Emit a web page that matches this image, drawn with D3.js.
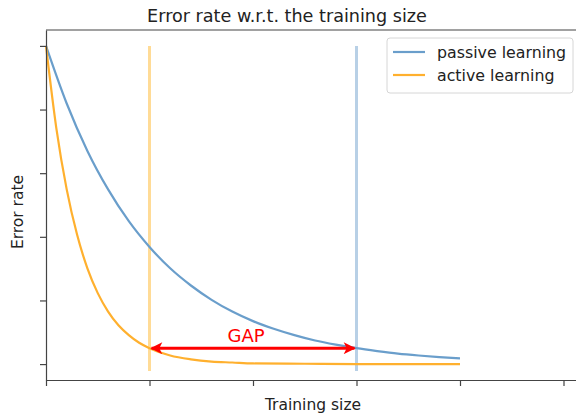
<!DOCTYPE html>
<html>
<head>
<meta charset="utf-8">
<script src="https://cdn.jsdelivr.net/npm/d3@7"></script>
<style>
  body { margin: 0; background: #fff; }
  svg { display: block; font-family: "DejaVu Sans", sans-serif; }
</style>
</head>
<body>
<svg id="chart" width="576" height="416"></svg>
<script>
// values
const passiveX = [0, 0.2, 0.4, 0.6, 0.8, 1.0, 1.2, 1.4, 1.6, 1.8, 2.0, 2.2, 2.4, 2.6, 2.8, 3.0, 3.2, 3.4, 3.6, 3.8, 4.0];
const passiveY = [1.0, 0.819, 0.670, 0.549, 0.449, 0.368, 0.301, 0.247, 0.202, 0.165, 0.135, 0.111, 0.091, 0.074, 0.061, 0.050, 0.041, 0.033, 0.027, 0.022, 0.018];
const activeX = [0, 0.1, 0.2, 0.3, 0.4, 0.5, 0.6, 0.7, 0.8, 0.9, 1.0, 1.2, 1.4, 1.6, 1.8, 2.0, 2.5, 3.0, 3.5, 4.0];
const activeY = [1.0, 0.741, 0.549, 0.407, 0.301, 0.223, 0.165, 0.122, 0.091, 0.067, 0.050, 0.027, 0.015, 0.008, 0.005, 0.002, 0.001, 0.0, 0.0, 0.0];
const xTicks = [0, 1, 2, 3, 4, 5];
const yTicks = [0, 0.2, 0.4, 0.6, 0.8, 1.0];
const gapFrom = 1, gapTo = 3, gapLevel = 0.05;
const markerX = [1, 3];
const seriesNames = ["passive learning", "active learning"];

const blue = "#6a9ecb", orange = "#ffb02e";

const svg = d3.select("#chart");

svg.append("rect").attr("width", 576).attr("height", 416).attr("fill", "#fff");

const x = d3.scaleLinear().domain([0, 5.2]).range([46, 584.2]);
const y = d3.scaleLinear().domain([-0.05, 1.05]).range([380, 30]);

// vertical guide lines
const guideColors = ["#ffdb96", "#b8d0e6"];
svg.selectAll(".guide")
    .data(markerX)
    .enter().append("line")
    .attr("class", "guide")
    .attr("x1", d => x(d)).attr("x2", d => x(d))
    .attr("y1", y(1)).attr("y2", y(-0.022))
    .attr("stroke", (d, i) => guideColors[i])
    .attr("stroke-width", 3);

const line = d3.line()
    .x(d => x(d[0]))
    .y(d => y(d[1]))
    .curve(d3.curveMonotoneX);

svg.append("path")
    .datum(passiveX.map((v, i) => [v, passiveY[i]]))
    .attr("d", line)
    .attr("fill", "none")
    .attr("stroke", blue)
    .attr("stroke-width", 2.2);

svg.append("path")
    .datum(activeX.map((v, i) => [v, activeY[i]]))
    .attr("d", line)
    .attr("fill", "none")
    .attr("stroke", orange)
    .attr("stroke-width", 2.2);

// GAP arrow
const defs = svg.append("defs");
defs.append("marker")
    .attr("id", "head")
    .attr("viewBox", "0 0 10 10")
    .attr("refX", 9).attr("refY", 5)
    .attr("markerWidth", 4.5).attr("markerHeight", 4)
    .attr("markerUnits", "strokeWidth")
    .attr("orient", "auto-start-reverse")
    .append("path")
    .attr("d", "M0,0 L10,5 L0,10 L2.5,5 Z")
    .attr("fill", "red");

svg.append("line")
    .attr("x1", x(gapFrom) + 2).attr("x2", x(gapTo) - 2)
    .attr("y1", y(gapLevel)).attr("y2", y(gapLevel))
    .attr("stroke", "red")
    .attr("stroke-width", 3)
    .attr("marker-start", "url(#head)")
    .attr("marker-end", "url(#head)");

svg.append("text")
    .attr("x", x((gapFrom + gapTo) / 2) - 7)
    .attr("y", y(gapLevel) - 6)
    .attr("text-anchor", "middle")
    .attr("fill", "red")
    .attr("font-size", 18)
    .text("GAP");

// axes
const gX = svg.append("g")
    .attr("transform", "translate(0,380)")
    .call(d3.axisBottom(x).tickValues(xTicks).tickFormat("").tickSize(6).tickSizeOuter(0));
const gY = svg.append("g")
    .attr("transform", "translate(46,0)")
    .call(d3.axisLeft(y).tickValues(yTicks).tickFormat("").tickSize(6).tickSizeOuter(0));
[gX, gY].forEach(g => {
    g.select(".domain").attr("stroke", "#444").attr("stroke-width", 1.2);
    g.selectAll(".tick line").attr("stroke", "#444").attr("stroke-width", 1.2);
});

// top spine
svg.append("line")
    .attr("x1", 46).attr("x2", 576)
    .attr("y1", 30).attr("y2", 30)
    .attr("stroke", "#444").attr("stroke-width", 1.2);

// labels
svg.append("text")
    .attr("x", 287).attr("y", 22)
    .attr("text-anchor", "middle")
    .attr("font-size", 17.6)
    .attr("fill", "#222")
    .text("Error rate w.r.t. the training size");

svg.append("text")
    .attr("x", 313).attr("y", 410)
    .attr("text-anchor", "middle")
    .attr("font-size", 15.5)
    .attr("fill", "#222")
    .text("Training size");

svg.append("text")
    .attr("transform", "translate(23,212) rotate(-90)")
    .attr("text-anchor", "middle")
    .attr("font-size", 15.5)
    .attr("fill", "#222")
    .text("Error rate");

// legend
const legend = svg.append("g").attr("transform", "translate(387,38)");
legend.append("rect")
    .attr("width", 186).attr("height", 55)
    .attr("rx", 3)
    .attr("fill", "#fff")
    .attr("stroke", "#d6d6d6");
const items = legend.selectAll(".item")
    .data(seriesNames)
    .enter().append("g")
    .attr("transform", (d, i) => `translate(0,${14 + i * 23})`);
items.append("line")
    .attr("x1", 6).attr("x2", 38)
    .attr("stroke", (d, i) => i === 0 ? blue : orange)
    .attr("stroke-width", 2.2);
items.append("text")
    .attr("x", 50).attr("y", 5.5)
    .attr("font-size", 15.8)
    .attr("fill", "#222")
    .text(d => d);
</script>
</body>
</html>
